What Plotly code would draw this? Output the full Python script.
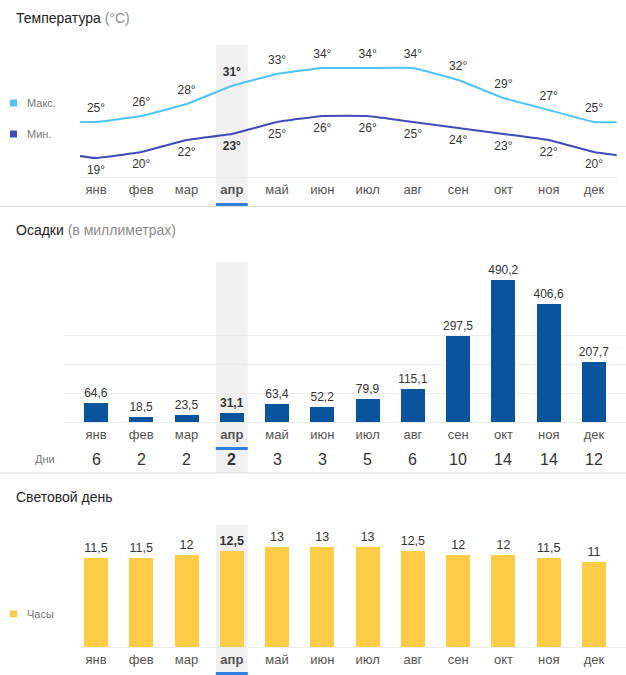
import plotly.graph_objects as go

# ---------------- data ----------------
MONTHS = ["янв", "фев", "мар", "апр", "май", "июн", "июл", "авг", "сен", "окт", "ноя", "дек"]
HIGHLIGHT = "апр"
T_MAX = [25, 26, 28, 31, 33, 34, 34, 34, 32, 29, 27, 25]
T_MIN = [19, 20, 22, 23, 25, 26, 26, 25, 24, 23, 22, 20]
RAIN_MM = [64.6, 18.5, 23.5, 31.1, 63.4, 52.2, 79.9, 115.1, 297.5, 490.2, 406.6, 207.7]
RAIN_DAYS = [6, 2, 2, 2, 3, 3, 5, 6, 10, 14, 14, 12]
DAYLIGHT_H = [11.5, 11.5, 12, 12.5, 13, 13, 13, 12.5, 12, 12, 11.5, 11]

# ---------------- styling ----------------
W, H = 626, 675
FONT = "Arial, Liberation Sans, sans-serif"
C_MAX = "#4fc3f7"
C_MIN = "#3f4bb8"
C_RAIN = "#0a549e"
C_SUN = "#ffcc47"
C_BAND = "#f1f1f1"
C_UNDER = "#2f80e0"
C_TXT = "#333333"
C_MONTH = "#555555"

hl = MONTHS.index(HIGHLIGHT)
idx = list(range(len(MONTHS)))
PITCH = 45.27   # px per month
X0 = 96         # px centre of first month


def fx(p):
    return p / W


def fy(p):
    return 1 - p / H


def xr(left_px, right_px):
    return [(left_px - X0) / PITCH, (right_px - X0) / PITCH]


def bold_if(i, s):
    return f"<b>{s}</b>" if i == hl else s


def fmt(v, dec=None):
    s = f"{v:.1f}" if dec else ("%g" % v)
    return s.replace(".", ",")


ticktext = [bold_if(i, m) for i, m in enumerate(MONTHS)]

fig = go.Figure()

# temperature lines (wrap with neighbouring months so the curve continues to the edges)
tx = [-1] + idx + [len(MONTHS)]
for vals, col, pos in [(T_MAX, C_MAX, "top center"), (T_MIN, C_MIN, "bottom center")]:
    fig.add_trace(go.Scatter(
        x=tx, y=[vals[-1]] + vals + [vals[0]],
        mode="lines+markers+text",
        marker=dict(size=10, opacity=0, color=col),
        line=dict(color=col, width=2, shape="spline", smoothing=0.25),
        text=[""] + [bold_if(i, f"{v}°") for i, v in enumerate(vals)] + [""],
        textposition=pos,
        textfont=dict(family=FONT, size=12, color=C_TXT),
        cliponaxis=False, showlegend=False, hoverinfo="skip",
        xaxis="x", yaxis="y",
    ))

# precipitation bars
fig.add_trace(go.Bar(
    x=idx, y=RAIN_MM, width=0.53, marker=dict(color=C_RAIN, line=dict(width=0)),
    text=[bold_if(i, fmt(v, 1)) for i, v in enumerate(RAIN_MM)],
    textposition="outside", constraintext="none", cliponaxis=False,
    textfont=dict(family=FONT, size=12, color=C_TXT),
    showlegend=False, hoverinfo="skip", xaxis="x2", yaxis="y2",
))

# daylight bars
fig.add_trace(go.Bar(
    x=idx, y=DAYLIGHT_H, width=0.53, marker=dict(color=C_SUN, line=dict(width=0)),
    text=[bold_if(i, fmt(v)) for i, v in enumerate(DAYLIGHT_H)],
    textposition="outside", constraintext="none", cliponaxis=False,
    textfont=dict(family=FONT, size=12.5, color=C_TXT),
    showlegend=False, hoverinfo="skip", xaxis="x3", yaxis="y3",
))

xcommon = dict(tickmode="array", tickvals=idx, ticktext=ticktext, showgrid=False,
               zeroline=False, ticks="", tickfont=dict(family=FONT, size=13, color=C_MONTH),
               showline=True, linecolor="#ececec", linewidth=1, fixedrange=True)
ycommon = dict(showticklabels=False, zeroline=False, ticks="", fixedrange=True)

fig.update_layout(
    width=W, height=H, autosize=False,
    margin=dict(l=0, r=0, t=0, b=0),
    paper_bgcolor="white", plot_bgcolor="rgba(0,0,0,0)",
    font=dict(family=FONT, color=C_TXT),
    bargap=0,
    xaxis=dict(domain=[fx(80), fx(616.7)], range=xr(80, 616.7), anchor="y", **xcommon),
    yaxis=dict(domain=[fy(177), fy(45)], range=[25 - 55 / 6, 25 + 77 / 6], showgrid=False,
               anchor="x", **ycommon),
    xaxis2=dict(domain=[fx(64), 1], range=xr(64, 626), anchor="y2", **xcommon),
    yaxis2=dict(domain=[fy(422), fy(262)], range=[0, 160 / 0.289], showgrid=True, anchor="x2",
                gridcolor="#ececec", tickmode="array", tickvals=[0, 100, 200, 300], **ycommon),
    xaxis3=dict(domain=[fx(80), 1], range=xr(80, 626), anchor="y3", **xcommon),
    yaxis3=dict(domain=[fy(647), fy(525)], range=[0, 122 / 7.7], showgrid=False, anchor="x3",
                **ycommon),
)

shapes = []
# highlight bands and underlines
for xref, top, bot, ul in [("x", 45, 206, 203), ("x2", 262, 473, 447), ("x3", 525, 675, 672)]:
    shapes.append(dict(type="rect", xref=xref, yref="paper", x0=hl - 0.353, x1=hl + 0.353,
                       y0=fy(bot), y1=fy(top), fillcolor=C_BAND, line=dict(width=0), layer="below"))
    shapes.append(dict(type="rect", xref=xref, yref="paper", x0=hl - 0.353, x1=hl + 0.353,
                       y0=fy(ul + 3), y1=fy(ul), fillcolor=C_UNDER, line=dict(width=0), layer="above"))
# section separators
for yy in [206.5, 473]:
    shapes.append(dict(type="line", xref="paper", yref="paper", x0=0, x1=1, y0=fy(yy), y1=fy(yy),
                       line=dict(color="#dcdcdc", width=1)))
# legend squares
for yy, col in [(103, C_MAX), (134, C_MIN), (614, C_SUN)]:
    shapes.append(dict(type="rect", xref="paper", yref="paper", x0=fx(10), x1=fx(17),
                       y0=fy(yy + 3.5), y1=fy(yy - 3.5), fillcolor=col, line=dict(width=0)))
fig.update_layout(shapes=shapes)

ann = []
for yy, main, sub in [(18, "Температура", " (°C)"), (230, "Осадки", " (в миллиметрах)"),
                      (497, "Световой день", "")]:
    ann.append(dict(xref="paper", yref="paper", x=fx(14), y=fy(yy), xanchor="left", yanchor="middle",
                    text=main + (f"<span style='color:#8a8a8a'>{sub}</span>" if sub else ""),
                    showarrow=False, font=dict(family=FONT, size=14, color="#222222")))
for yy, t in [(103, "Макс."), (134, "Мин."), (614, "Часы")]:
    ann.append(dict(xref="paper", yref="paper", x=fx(25), y=fy(yy), xanchor="left", yanchor="middle",
                    text=t, showarrow=False, font=dict(family=FONT, size=11, color="#777777")))
ann.append(dict(xref="paper", yref="paper", x=fx(45), y=fy(459), xanchor="center", yanchor="middle",
                text="Дни", showarrow=False, font=dict(family=FONT, size=11, color="#777777")))
for i, d in enumerate(RAIN_DAYS):
    ann.append(dict(xref="x2", yref="paper", x=i, y=fy(459), xanchor="center", yanchor="middle",
                    text=bold_if(i, str(d)), showarrow=False,
                    font=dict(family=FONT, size=16, color=C_TXT)))
fig.update_layout(annotations=ann)

fig.write_html("out.html", config={"staticPlot": True},
               post_script="document.body.style.margin='0';document.body.style.overflow='hidden';")
